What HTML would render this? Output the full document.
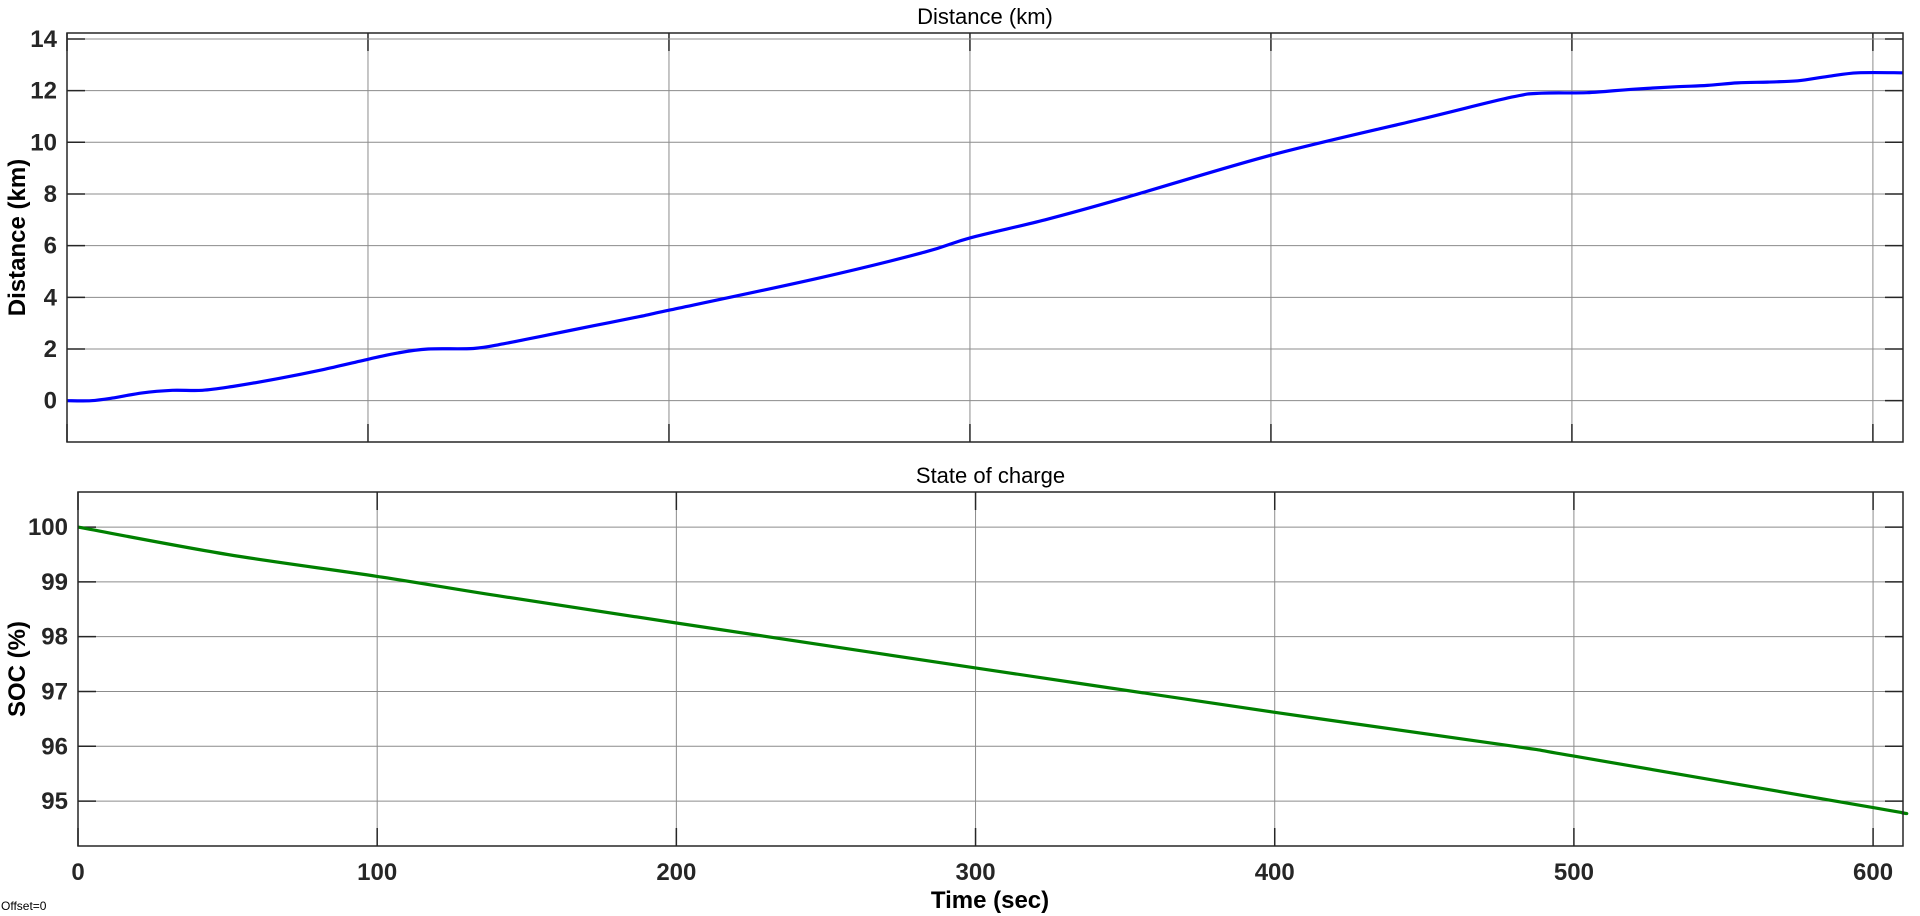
<!DOCTYPE html>
<html><head><meta charset="utf-8"><style>
html,body{margin:0;padding:0;background:#fff;}
svg{display:block;font-family:"Liberation Sans",Arial,sans-serif;}
</style></head><body>
<svg id="chart" width="1920" height="916" viewBox="0 0 1920 916"></svg>
<script>
const distT=[0,8,15,25,35,45,55,70,85,100,110,120,135,145,160,175,190,200,250,285,300,325,350,400,450,480,490,505,520,535,545,555,565,575,585,595,610];
const distV=[0,0,0.1,0.3,0.4,0.4,0.55,0.85,1.2,1.6,1.85,2.0,2.02,2.2,2.55,2.9,3.25,3.5,4.75,5.75,6.3,7.0,7.8,9.5,10.9,11.75,11.9,11.92,12.05,12.15,12.2,12.3,12.33,12.38,12.55,12.69,12.69];
const socT=[0,50,100,140,200,300,400,480,500,600,610];
const socV=[100,99.5,99.1,98.75,98.25,97.43,96.62,96.0,95.82,94.88,94.78];
const xTicks=[0,100,200,300,400,500,600];
const distTicks=[0,2,4,6,8,10,12,14];
const socTicks=[95,96,97,98,99,100];

const NS="http://www.w3.org/2000/svg";
const svg=document.getElementById('chart');
function mk(tag,attrs,parent){const e=document.createElementNS(NS,tag);for(const k in attrs)e.setAttribute(k,attrs[k]);(parent||svg).appendChild(e);return e;}
function smooth(p){
  let d='M'+p[0][0].toFixed(1)+','+p[0][1].toFixed(1);
  for(let i=0;i<p.length-1;i++){
    const p0=p[Math.max(0,i-1)],p1=p[i],p2=p[i+1],p3=p[Math.min(p.length-1,i+2)];
    const c1x=p1[0]+(p2[0]-p0[0])/6,c1y=p1[1]+(p2[1]-p0[1])/6;
    const c2x=p2[0]-(p3[0]-p1[0])/6,c2y=p2[1]-(p3[1]-p1[1])/6;
    d+=` C${c1x.toFixed(1)},${c1y.toFixed(1)} ${c2x.toFixed(1)},${c2y.toFixed(1)} ${p2[0].toFixed(1)},${p2[1].toFixed(1)}`;
  }
  return d;
}

function panel(o){
  const g=mk('g',{});
  
  
  const X=v=>o.l+(v-o.xmin)/(o.xmax-o.xmin)*(o.r-o.l);
  const Y=v=>o.b-(v-o.ymin)/(o.ymax-o.ymin)*(o.b-o.t);
  xTicks.forEach(v=>{const x=X(v);
    const gl=mk('line',{x1:x,x2:x,y1:o.t,y2:o.b,stroke:'#8c8c8c','stroke-width':1},g);
    
    
    mk('line',{x1:x,x2:x,y1:o.t,y2:o.t+18,stroke:'#262626','stroke-width':1.5},g);
    mk('line',{x1:x,x2:x,y1:o.b,y2:o.b-18,stroke:'#262626','stroke-width':1.5},g);
    if(o.xlabels){const t=mk('text',{x:x,y:o.b+34,'text-anchor':'middle','font-size':24,'font-weight':'bold',fill:'#262626'},g);t.textContent=v;
      
      }
  });
  o.yticks.forEach(v=>{const y=Y(v);
    const gl=mk('line',{x1:o.l,x2:o.r,y1:y,y2:y,stroke:'#8c8c8c','stroke-width':1},g);
    
    
    mk('line',{x1:o.l,x2:o.l+18,y1:y,y2:y,stroke:'#262626','stroke-width':1.5},g);
    mk('line',{x1:o.r,x2:o.r-18,y1:y,y2:y,stroke:'#262626','stroke-width':1.5},g);
    const t=mk('text',{x:o.l-10,y:y+8,'text-anchor':'end','font-size':24,'font-weight':'bold',fill:'#262626'},g);t.textContent=v;
    
    
  });
  const pts=o.tx.map((t,i)=>[X(t),Y(o.ty[i])]);
  const pl=mk('path',{d:smooth(pts),fill:'none',stroke:o.color,'stroke-width':3.2,'stroke-linejoin':'round'},g);
  
  
  const fr=mk('rect',{x:o.l,y:o.t,width:o.r-o.l,height:o.b-o.t,fill:'none',stroke:'#262626','stroke-width':1.5},g);
  
  
  const tt=mk('text',{x:(o.l+o.r)/2,y:o.t-9,'text-anchor':'middle','font-size':22,fill:'#000'},g);tt.textContent=o.title;
  
  
  const yl=mk('text',{x:0,y:0,'text-anchor':'middle','font-size':24,'font-weight':'bold',fill:'#000',transform:`translate(25,${(o.t+o.b)/2}) rotate(-90)`},g);yl.textContent=o.ylabel;
  
  
}
panel({name:'distance-panel',series:'distance-line',l:67,r:1903,t:33,b:442,xmin:0,xmax:610,ymin:-1.6,ymax:14.23,yticks:distTicks,tx:distT,ty:distV,color:'#0000ff',title:'Distance (km)',ylabel:'Distance (km)',xlabels:false});
panel({name:'soc-panel',series:'soc-line',l:78,r:1903,t:492,b:846,xmin:0,xmax:610,ymin:94.18,ymax:100.64,yticks:socTicks,tx:socT,ty:socV,color:'#008000',title:'State of charge',ylabel:'SOC (%)',xlabels:true});
const xl=mk('text',{x:990,y:908,'text-anchor':'middle','font-size':24,'font-weight':'bold',fill:'#000'});xl.textContent='Time (sec)';


const off=mk('text',{x:1,y:910,'font-size':12,fill:'#000'});off.textContent='Offset=0';


</script>
</body></html>
